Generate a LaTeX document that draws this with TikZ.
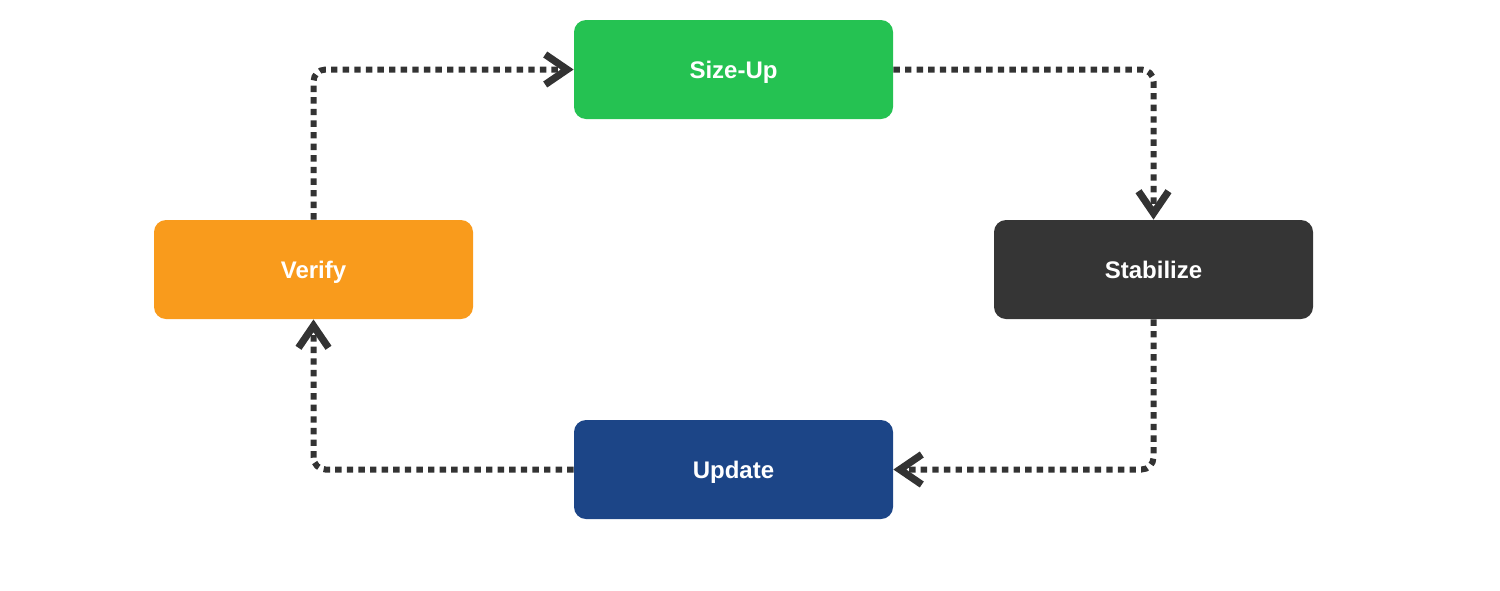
\documentclass[tikz,border=0pt]{standalone}
\usepackage{fontspec}
\setmainfont{Liberation Sans}
\usetikzlibrary{arrows.meta}
\definecolor{cgreen}{HTML}{25C252}
\definecolor{corange}{HTML}{F99B1C}
\definecolor{cdark}{HTML}{353535}
\definecolor{cblue}{HTML}{1C4587}
\definecolor{cline}{HTML}{333333}
\tikzset{
  stepbox/.style={rounded corners=6pt, minimum width=159.5pt, minimum height=49.5pt,
    inner sep=0pt, text height=9pt, text depth=0pt, text=white,
    font=\fontsize{12pt}{14pt}\selectfont\bfseries},
  flow/.style={draw=cline, line width=3pt, dash pattern=on 3.2pt off 2.6pt,
    rounded corners=6pt,
    -{Straight Barb[length=11pt, width=15pt, line width=3.6pt]}}
}
\begin{document}
\begin{tikzpicture}[x=0.5pt,y=-0.5pt]
\useasboundingbox (0,0) rectangle (1500,590);
\node[stepbox, fill=cgreen] (size) at (733.5,69.5) {Size-Up};
\node[stepbox, fill=corange] (verify) at (313.5,269.5) {Verify};
\node[stepbox, fill=cdark] (stab) at (1153.5,269.5) {Stabilize};
\node[stepbox, fill=cblue] (upd) at (733.5,469.5) {Update};
\draw[flow] (verify.north) |- (size.west);
\draw[flow] (size.east) -| (stab.north);
\draw[flow] (stab.south) |- (upd.east);
\draw[flow] (upd.west) -| (verify.south);
\end{tikzpicture}
\end{document}
